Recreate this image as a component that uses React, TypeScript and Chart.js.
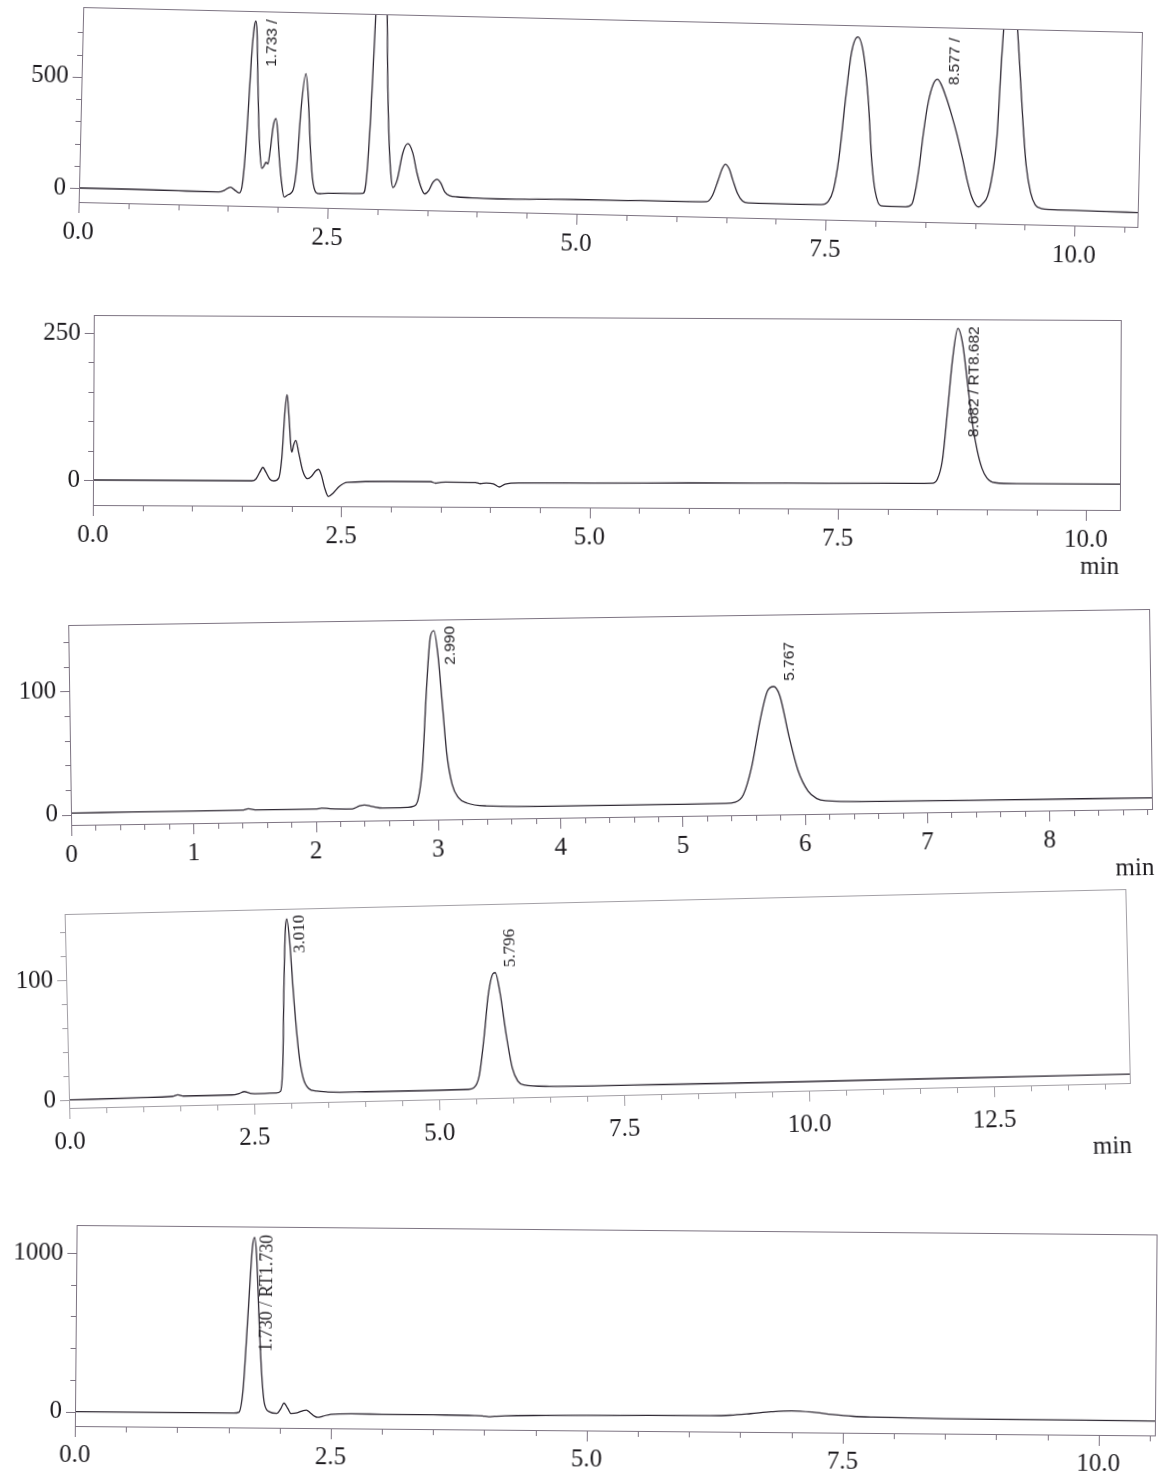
import React, { useEffect, useRef } from "react";
import { Chart, registerables } from "chart.js";

Chart.register(...registerables);

// ================= DATA =================
// Panel 1
const P1_TIME = [0, 0.5, 1.0, 1.4, 1.46, 1.52, 1.57, 1.61, 1.64, 1.67, 1.7, 1.72, 1.736, 1.75, 1.77, 1.79, 1.81, 1.83, 1.85, 1.87, 1.89, 1.91, 1.935, 1.96, 1.98, 2.0, 2.03, 2.06, 2.1, 2.15, 2.18, 2.21, 2.25, 2.28, 2.31, 2.34, 2.38, 2.42, 2.5, 2.7, 2.85, 2.88, 2.91, 2.94, 2.97, 3.0, 3.03, 3.05, 3.07, 3.1, 3.13, 3.15, 3.19, 3.24, 3.29, 3.34, 3.39, 3.44, 3.47, 3.51, 3.55, 3.59, 3.63, 3.67, 3.72, 3.8, 4.0, 4.2, 4.6, 5.0, 5.5, 6.0, 6.3, 6.36, 6.41, 6.45, 6.48, 6.52, 6.56, 6.61, 6.66, 6.72, 7.0, 7.45, 7.52, 7.57, 7.62, 7.67, 7.72, 7.78, 7.84, 7.9, 7.95, 7.99, 8.05, 8.2, 8.3, 8.36, 8.4, 8.43, 8.46, 8.5, 8.55, 8.59, 8.63, 8.68, 8.74, 8.8, 8.86, 8.91, 8.96, 9.0, 9.03, 9.07, 9.12, 9.16, 9.2, 9.23, 9.26, 9.31, 9.35, 9.38, 9.42, 9.46, 9.5, 9.55, 9.6, 9.66, 9.75, 10.0, 10.3, 10.63];
const P1_SIGNAL = [0, 0, -2, -3, 5, 20, 5, -5, 40, 250, 600, 740, 769, 720, 500, 300, 170, 107, 118, 135, 128, 190, 300, 333, 280, 170, 50, -19, -8, 15, 120, 380, 538, 430, 220, 70, 5, 0, 3, 4, 6, 60, 350, 850, 1250, 1400, 1200, 850, 550, 250, 80, 35, 70, 190, 234, 195, 100, 30, 10, 25, 62, 77, 60, 22, 5, 0, -3, -4.5, -2, 1, 2, 3, 5, 35, 100, 155, 175, 155, 104, 45, 12, 4, 3, 4, 19, 70, 220, 475, 690, 762, 690, 478, 200, 70, 5, 3, 3, 15, 93, 200, 334, 470, 560, 580, 555, 500, 420, 330, 225, 130, 55, 20, 10, 25, 60, 150, 330, 700, 950, 1050, 950, 820, 600, 380, 200, 80, 25, 10, 6, 5, 3, 2];
const P1_X_TICKS = [0, 2.5, 5, 7.5, 10];
const P1_X_LABELS = ["0.0", "2.5", "5.0", "7.5", "10.0"];
const P1_Y_TICKS = [0, 500];
const P1_Y_LABELS = ["0", "500"];
const P1_PEAK_X = [1.9, 8.76];
const P1_PEAK_Y = [565, 555];
const P1_PEAK_TEXT = ["1.733 /", "8.577 /"];

// Panel 2
const P2_TIME = [0, 1.0, 1.6, 1.64, 1.68, 1.71, 1.74, 1.78, 1.82, 1.87, 1.9, 1.93, 1.95, 1.97, 1.99, 2.0, 2.02, 2.04, 2.07, 2.11, 2.16, 2.2, 2.24, 2.27, 2.3, 2.33, 2.37, 2.42, 2.48, 2.56, 3.0, 3.4, 3.45, 3.49, 3.55, 3.85, 3.9, 3.96, 4.03, 4.09, 4.15, 4.3, 5.0, 6.0, 7.0, 8.0, 8.45, 8.5, 8.55, 8.6, 8.65, 8.7, 8.75, 8.8, 8.85, 8.9, 8.95, 9.0, 9.08, 9.3, 10.34];
const P2_SIGNAL = [0, 0, 0, 3, 15, 23, 15, 3, 0, 5, 40, 120, 147, 110, 60, 49, 62, 69, 48, 18, 4, 8, 17, 20, 10, -10, -26, -20, -9, -2, 0, 0, -2.5, -1.5, -0.5, -1, -3, -2, -3, -8.5, -3.5, -1.5, -1, 0, 0.5, 1, 1.5, 8, 40, 125, 215, 265, 238, 172, 105, 58, 27, 11, 3, 1.5, 1.5];
const P2_X_TICKS = [0, 2.5, 5, 7.5, 10];
const P2_X_LABELS = ["0.0", "2.5", "5.0", "7.5", "10.0"];
const P2_Y_TICKS = [0, 250];
const P2_Y_LABELS = ["0", "250"];
const P2_PEAK_X = [8.87];
const P2_PEAK_Y = [80];
const P2_PEAK_TEXT = ["8.682 / RT8.682"];

// Panel 3
const P3_TIME = [0, 0.5, 1.0, 1.4, 1.45, 1.52, 2.0, 2.05, 2.12, 2.3, 2.36, 2.4, 2.46, 2.55, 2.75, 2.8, 2.84, 2.88, 2.92, 2.96, 2.99, 3.02, 3.05, 3.08, 3.12, 3.17, 3.24, 3.4, 4.0, 5.0, 5.35, 5.43, 5.5, 5.57, 5.65, 5.71, 5.76, 5.81, 5.88, 5.95, 6.03, 6.1, 6.17, 6.5, 7.5, 8.84];
const P3_SIGNAL = [1.2, 1.3, 1.4, 1.5, 2.5, 1.6, 1.5, 2.2, 1.6, 1.2, 3.5, 4.2, 3, 1.5, 1.8, 2.5, 8, 35, 95, 140, 145, 125, 85, 45, 20, 9, 4.5, 2, 1, 1, 1.2, 2, 8, 30, 70, 92, 95.5, 88, 55, 27, 10, 4, 2.1, 1, 0.8, 0.5];
const P3_X_TICKS = [0, 1, 2, 3, 4, 5, 6, 7, 8];
const P3_X_LABELS = ["0", "1", "2", "3", "4", "5", "6", "7", "8"];
const P3_Y_TICKS = [0, 100];
const P3_Y_LABELS = ["0", "100"];
const P3_PEAK_X = [3.12, 5.89];
const P3_PEAK_Y = [117, 100];
const P3_PEAK_TEXT = ["2.990", "5.767"];

// Panel 4
const P4_TIME = [0, 1.0, 1.4, 1.47, 1.55, 2.2, 2.3, 2.37, 2.45, 2.6, 2.8, 2.86, 2.9, 2.94, 2.98, 3.0, 3.03, 3.07, 3.12, 3.17, 3.24, 3.35, 3.5, 4.0, 5.0, 5.4, 5.47, 5.55, 5.63, 5.7, 5.77, 5.8, 5.86, 5.93, 6.0, 6.07, 6.15, 6.5, 8.0, 10.0, 12.0, 14.34];
const P4_SIGNAL = [0, 0.5, 1, 2.2, 1, 1, 2, 3.5, 2, 1.5, 1.8, 3, 25, 90, 140, 146.6, 130, 80, 35, 14, 5, 2.5, 1.6, 1, 0.8, 1, 2, 12, 45, 80, 97, 97.7, 80, 45, 18, 7, 3.6, 2, 1.2, 0.8, 0.8, 0.7];
const P4_X_TICKS = [0, 2.5, 5, 7.5, 10, 12.5];
const P4_X_LABELS = ["0.0", "2.5", "5.0", "7.5", "10.0", "12.5"];
const P4_Y_TICKS = [0, 100];
const P4_Y_LABELS = ["0", "100"];
const P4_PEAK_X = [3.17, 6.01];
const P4_PEAK_Y = [118, 102];
const P4_PEAK_TEXT = ["3.010", "5.796"];

// Panel 5
const P5_TIME = [0, 1.0, 1.55, 1.6, 1.64, 1.68, 1.72, 1.74, 1.76, 1.79, 1.82, 1.85, 1.9, 1.97, 2.01, 2.04, 2.08, 2.11, 2.17, 2.23, 2.26, 2.3, 2.34, 2.37, 2.42, 2.5, 2.7, 3.0, 3.5, 3.9, 3.98, 4.04, 4.1, 4.2, 4.6, 5.0, 5.6, 6.2, 6.4, 6.6, 6.8, 7.0, 7.2, 7.4, 7.6, 7.8, 8.5, 9.5, 10.55];
const P5_SIGNAL = [0, 0, 0, 5, 150, 600, 1050, 1108, 1000, 600, 250, 60, 10, 0, 30, 66, 30, 0, 5, 20, 23, 5, -15, -22, -15, -2, 2, 1, 0, -2, -4, -9, -6, -2, 2, 5, 8, 10, 14, 25, 38, 45, 38, 24, 14, 10, 4, 2, 1];
const P5_X_TICKS = [0, 2.5, 5, 7.5, 10];
const P5_X_LABELS = ["0.0", "2.5", "5.0", "7.5", "10.0"];
const P5_Y_TICKS = [0, 1000];
const P5_Y_LABELS = ["0", "1000"];
const P5_PEAK_X = [1.87];
const P5_PEAK_Y = [389];
const P5_PEAK_TEXT = ["1.730 / RT1.730"];

// ================= STYLE / LAYOUT =================
const TRACE = "#2e2833";
const FRAME = "#7d7482";
const TEXT = "#1e1c20";
const SERIF = "'Liberation Serif', 'Times New Roman', serif";
const SANS = "'Liberation Sans', Arial, sans-serif";
const YW = 70; // y-axis box width
const PT = 32; // top padding
const PR = 40; // right padding

function tickRange(max: number, step: number): number[] {
  const out: number[] = [];
  for (let i = 0; i * step <= max + 1e-9; i++) out.push(Math.round(i * step * 1000) / 1000);
  return out;
}

interface PanelSpec {
  time: number[];
  signal: number[];
  xMax: number;
  yMin: number;
  yMax: number;
  xTicks: number[];
  xLabels: string[];
  yTicks: number[];
  yLabels: string[];
  xMinor: number[];
  yMinor: number[];
  peakX: number[];
  peakY: number[];
  peakText: string[];
  peakFont: string;
  unit: boolean;
  unitDx: number;
  unitDy: number;
  frameColor: string;
  plotLeft: number;
  plotTop: number;
  plotW: number;
  plotH: number;
  xAxisH: number;
  xLabelPad: number;
  tilt: number;
}

const PANELS: PanelSpec[] = [
  {
    time: P1_TIME, signal: P1_SIGNAL, xMax: 10.63, yMin: -63, yMax: 814,
    xTicks: P1_X_TICKS, xLabels: P1_X_LABELS, yTicks: P1_Y_TICKS, yLabels: P1_Y_LABELS,
    xMinor: tickRange(10.5, 0.5), yMinor: tickRange(700, 100),
    peakX: P1_PEAK_X, peakY: P1_PEAK_Y, peakText: P1_PEAK_TEXT, peakFont: `15.5px ${SANS}`,
    unit: false, unitDx: 0, unitDy: 0, frameColor: FRAME,
    plotLeft: 79, plotTop: 7, plotW: 1059, plotH: 195, xAxisH: 75, xLabelPad: 15, tilt: 1.35,
  },
  {
    time: P2_TIME, signal: P2_SIGNAL, xMax: 10.34, yMin: -42.5, yMax: 280.6,
    xTicks: P2_X_TICKS, xLabels: P2_X_LABELS, yTicks: P2_Y_TICKS, yLabels: P2_Y_LABELS,
    xMinor: tickRange(10, 0.5), yMinor: tickRange(250, 50),
    peakX: P2_PEAK_X, peakY: P2_PEAK_Y, peakText: P2_PEAK_TEXT, peakFont: `15.5px ${SANS}`,
    unit: true, unitDx: -20, unitDy: 57, frameColor: FRAME,
    plotLeft: 93, plotTop: 315, plotW: 1027, plotH: 190, xAxisH: 75, xLabelPad: 15, tilt: 0.28,
  },
  {
    time: P3_TIME, signal: P3_SIGNAL, xMax: 8.84, yMin: -8.5, yMax: 154,
    xTicks: P3_X_TICKS, xLabels: P3_X_LABELS, yTicks: P3_Y_TICKS, yLabels: P3_Y_LABELS,
    xMinor: tickRange(8.8, 0.2), yMinor: tickRange(140, 20),
    peakX: P3_PEAK_X, peakY: P3_PEAK_Y, peakText: P3_PEAK_TEXT, peakFont: `15.5px ${SANS}`,
    unit: true, unitDx: -18, unitDy: 59, frameColor: FRAME,
    plotLeft: 71, plotTop: 625, plotW: 1081, plotH: 200, xAxisH: 75, xLabelPad: 15, tilt: -0.85,
  },
  {
    time: P4_TIME, signal: P4_SIGNAL, xMax: 14.34, yMin: -6.7, yMax: 155,
    xTicks: P4_X_TICKS, xLabels: P4_X_LABELS, yTicks: P4_Y_TICKS, yLabels: P4_Y_LABELS,
    xMinor: tickRange(14, 0.5), yMinor: tickRange(140, 20),
    peakX: P4_PEAK_X, peakY: P4_PEAK_Y, peakText: P4_PEAK_TEXT, peakFont: `17px ${SERIF}`,
    unit: true, unitDx: -19, unitDy: 63, frameColor: "#a3a0a6",
    plotLeft: 69, plotTop: 914, plotW: 1061, plotH: 194, xAxisH: 80, xLabelPad: 19, tilt: -1.35,
  },
  {
    time: P5_TIME, signal: P5_SIGNAL, xMax: 10.55, yMin: -90, yMax: 1176,
    xTicks: P5_X_TICKS, xLabels: P5_X_LABELS, yTicks: P5_Y_TICKS, yLabels: P5_Y_LABELS,
    xMinor: tickRange(10.5, 0.5), yMinor: tickRange(1000, 200),
    peakX: P5_PEAK_X, peakY: P5_PEAK_Y, peakText: P5_PEAK_TEXT, peakFont: `18px ${SERIF}`,
    unit: false, unitDx: 0, unitDy: 0, frameColor: FRAME,
    plotLeft: 75, plotTop: 1225, plotW: 1080, plotH: 201, xAxisH: 50, xLabelPad: 14, tilt: 0.5,
  },
];

function labelFor(values: number[], labels: string[], v: number): string {
  const i = values.findIndex((t) => Math.abs(t - v) < 1e-6);
  return i >= 0 ? labels[i] : "";
}

function makeDecorPlugin(spec: PanelSpec) {
  return {
    id: "decor",
    afterDatasetsDraw(chart: any) {
      const { ctx, chartArea: a, scales } = chart;
      const x = scales.x;
      const y = scales.y;
      ctx.save();
      // frame
      ctx.strokeStyle = spec.frameColor;
      ctx.lineWidth = 1;
      ctx.strokeRect(Math.round(a.left) + 0.5, Math.round(a.top) + 0.5, Math.round(a.width), Math.round(a.height));
      // x tick marks
      ctx.beginPath();
      for (const v of spec.xMinor) {
        const px = Math.round(x.getPixelForValue(v)) + 0.5;
        const major = spec.xTicks.some((t) => Math.abs(t - v) < 1e-6);
        ctx.moveTo(px, a.bottom);
        ctx.lineTo(px, a.bottom + (major ? 11 : 6));
      }
      // y tick marks
      for (const v of spec.yMinor) {
        const py = Math.round(y.getPixelForValue(v)) + 0.5;
        const major = spec.yTicks.some((t) => Math.abs(t - v) < 1e-6);
        ctx.moveTo(a.left, py);
        ctx.lineTo(a.left - (major ? 9 : 5), py);
      }
      ctx.stroke();
      // peak labels (rotated, reading bottom to top)
      ctx.fillStyle = TEXT;
      ctx.font = spec.peakFont;
      ctx.textAlign = "left";
      ctx.textBaseline = "middle";
      spec.peakText.forEach((t, i) => {
        ctx.save();
        ctx.translate(x.getPixelForValue(spec.peakX[i]), y.getPixelForValue(spec.peakY[i]));
        ctx.rotate(-Math.PI / 2);
        ctx.fillText(t, 0, 0);
        ctx.restore();
      });
      // unit label
      if (spec.unit) {
        ctx.font = `25px ${SERIF}`;
        ctx.textAlign = "center";
        ctx.fillText("min", a.right + spec.unitDx, a.bottom + spec.unitDy);
      }
      ctx.restore();
    },
  };
}

function Panel({ spec }: { spec: PanelSpec }) {
  const ref = useRef<HTMLCanvasElement>(null);
  const cw = YW + spec.plotW + PR;
  const ch = PT + spec.plotH + spec.xAxisH;
  const originY = PT + (spec.plotH * spec.yMax) / (spec.yMax - spec.yMin);

  useEffect(() => {
    const canvas = ref.current;
    if (!canvas) return;
    const chart = new Chart(canvas, {
      type: "line",
      data: {
        datasets: [
          {
            data: spec.time.map((t, i) => ({ x: t, y: spec.signal[i] })),
            borderColor: TRACE,
            borderWidth: 1.3,
            pointRadius: 0,
            fill: false,
            cubicInterpolationMode: "monotone",
          },
        ],
      },
      options: {
        responsive: false,
        maintainAspectRatio: false,
        animation: false,
        devicePixelRatio: 1,
        events: [],
        layout: { padding: { left: 0, top: PT, right: PR, bottom: 0 } },
        plugins: { legend: { display: false }, tooltip: { enabled: false }, title: { display: false } },
        scales: {
          x: {
            type: "linear",
            min: 0,
            max: spec.xMax,
            grid: { display: false, drawTicks: false },
            border: { display: false },
            afterBuildTicks: (s: any) => {
              s.ticks = spec.xTicks.map((v) => ({ value: v }));
            },
            afterFit: (s: any) => {
              s.height = spec.xAxisH;
            },
            ticks: {
              autoSkip: false,
              maxRotation: 0,
              minRotation: 0,
              padding: spec.xLabelPad,
              color: TEXT,
              font: { family: SERIF, size: 25 },
              callback: (v: any) => labelFor(spec.xTicks, spec.xLabels, Number(v)),
            },
          },
          y: {
            type: "linear",
            min: spec.yMin,
            max: spec.yMax,
            grid: { display: false, drawTicks: false },
            border: { display: false },
            afterBuildTicks: (s: any) => {
              s.ticks = spec.yTicks.map((v) => ({ value: v }));
            },
            afterFit: (s: any) => {
              s.width = YW;
            },
            ticks: {
              autoSkip: false,
              padding: 13,
              color: TEXT,
              font: { family: SERIF, size: 25 },
              callback: (v: any) => labelFor(spec.yTicks, spec.yLabels, Number(v)),
            },
          },
        },
      },
      plugins: [makeDecorPlugin(spec)],
    } as any);
    return () => chart.destroy();
  }, [spec]);

  return (
    <canvas
      ref={ref}
      width={cw}
      height={ch}
      style={{
        position: "absolute",
        left: spec.plotLeft - YW,
        top: spec.plotTop - PT,
        width: cw,
        height: ch,
        transform: `rotate(${spec.tilt}deg)`,
        transformOrigin: `${YW}px ${originY}px`,
      }}
    />
  );
}

export default function App() {
  return (
    <div
      style={{
        position: "absolute",
        left: 0,
        top: 0,
        width: 1167,
        height: 1480,
        background: "#ffffff",
        overflow: "hidden",
      }}
    >
      {PANELS.map((p, i) => (
        <Panel key={i} spec={p} />
      ))}
    </div>
  );
}
